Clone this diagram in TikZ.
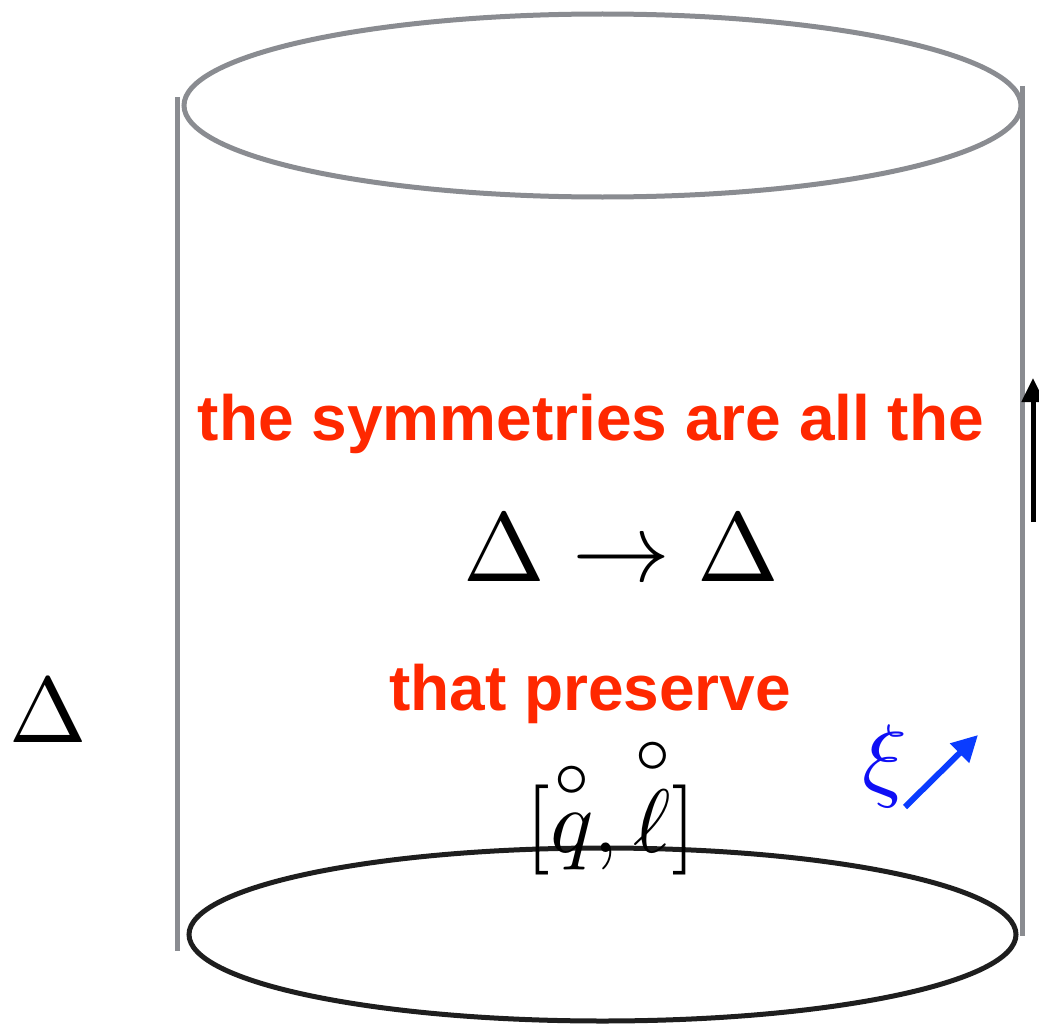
\documentclass[tikz,border=0pt]{standalone}
\usepackage{fontspec}
\usepackage{graphicx}
\usepackage{amsmath}
\usetikzlibrary{arrows.meta}
\newfontfamily\redfont{Liberation Sans}
\definecolor{cylgray}{RGB}{138,140,145}
\definecolor{redtxt}{RGB}{255,40,0}
\definecolor{bluexi}{RGB}{15,15,245}
\definecolor{bluearr}{RGB}{10,60,255}
\definecolor{rimblack}{RGB}{30,30,30}
\tikzset{
  grayline/.style={draw=cylgray, line width=5pt},
  rimline/.style={draw=rimblack, line width=5pt},
  redlabel/.style={text=redtxt, font=\redfont\bfseries\fontsize{64}{70}\selectfont, inner sep=0pt, anchor=base},
  mathlabel/.style={inner sep=0pt, anchor=base},
}
\begin{document}
\begin{tikzpicture}[x=1pt, y=-1pt]
\useasboundingbox (0,0) rectangle (1039,1025);
% cylinder
\draw[grayline] (602.5,105.5) ellipse [x radius=418.5pt, y radius=91.5pt];
\draw[rimline] (602.5,934.5) ellipse [x radius=413.5pt, y radius=86.5pt];
\coordinate (lt) at (177,97);
\coordinate (lb) at (177,951);
\coordinate (rt) at (1022,86);
\coordinate (rb) at (1022,936);
\draw[grayline] (lt) -- (lb);
\draw[grayline] (rt) -- (rb);
% texts
\node[redlabel] (sym) at (591,440) {the symmetries are all the};
\node[mathlabel] (map) at (621,581) {\scalebox{9.8}{$\Delta\to\Delta$}};
\node[redlabel] (pres) at (590,710) {that preserve};
\node[mathlabel] (pair) at (611,852) {\scalebox{9}{$[\overset{\circ}{q},\overset{\circ}{\ell}]$}};
\node[mathlabel] (delta) at (48,742) {\scalebox{9.3}{$\Delta$}};
\node[mathlabel, text=bluexi] (xi) at (885,789) {\scalebox{9.3}{$\xi$}};
% arrows
\coordinate (ba) at (1033,522);
\coordinate (bb) at (1033,378);
\draw[line width=5pt, -{Triangle[length=24pt,width=22pt]}] (ba) -- (bb);
\coordinate (xa) at (905,807);
\coordinate (xb) at (978,735);
\draw[bluearr, line width=6pt, -{Triangle[length=26pt,width=26pt]}] (xa) -- (xb);
\end{tikzpicture}
\end{document}
